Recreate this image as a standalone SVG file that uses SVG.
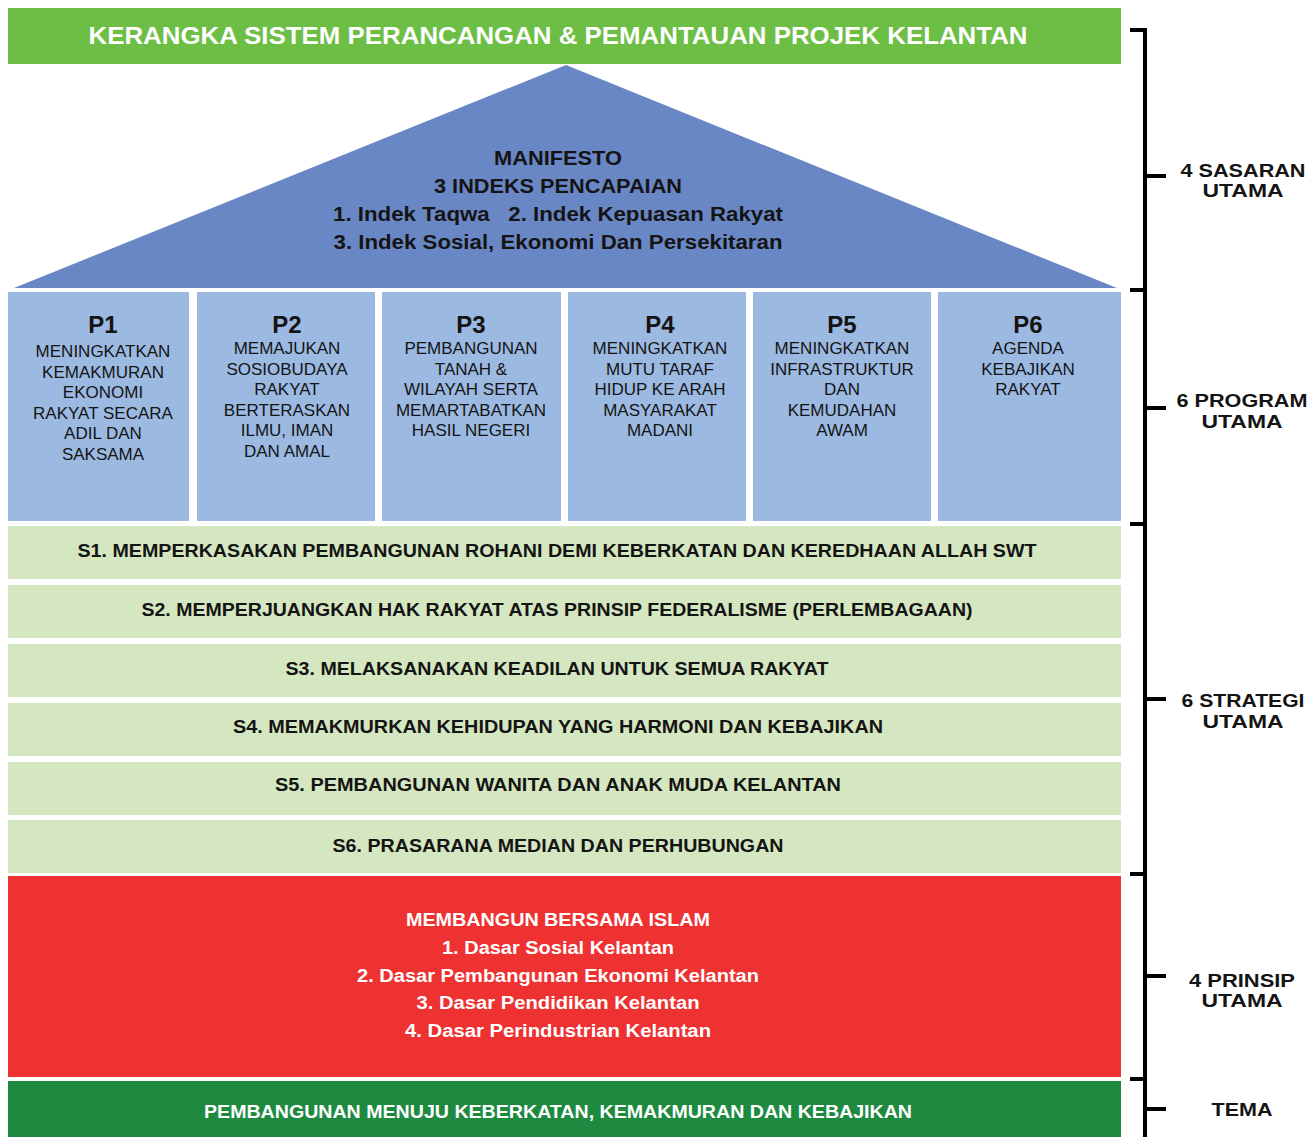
<svg xmlns="http://www.w3.org/2000/svg" width="1316" height="1137" viewBox="0 0 1316 1137">
<style>
.b{font-family:"Liberation Sans","DejaVu Sans",sans-serif;font-weight:bold;text-anchor:middle}
.r{font-family:"Liberation Sans","DejaVu Sans",sans-serif;text-anchor:middle}
.dk{fill:#141414}
.wh{fill:#ffffff}
.col{fill:#9bb9e1}
.srow{fill:#d5e7c0}
.hd{font-size:24px}
.ct{font-size:17px}
.st{font-size:18px}
.lbl{font-size:19px}
.br{stroke:#000;stroke-width:4;fill:none}
</style>
<rect width="1316" height="1137" fill="#ffffff"/>
<g id="title">
<rect x="8" y="8" width="1113" height="56" fill="#6dbe45"/>
<text class="b wh" x="558" y="44" font-size="24" textLength="939" lengthAdjust="spacingAndGlyphs">KERANGKA SISTEM PERANCANGAN &amp; PEMANTAUAN PROJEK KELANTAN</text>
</g>
<g id="manifesto">
<polygon points="566,65 1117,288 14,288" fill="#6a87c5"/>
<text class="b dk" x="558" y="165" font-size="20" textLength="128" lengthAdjust="spacingAndGlyphs">MANIFESTO</text>
<text class="b dk" x="558" y="193" font-size="20" textLength="248" lengthAdjust="spacingAndGlyphs">3 INDEKS PENCAPAIAN</text>
<text class="b dk" x="558" y="221" font-size="20" textLength="450" lengthAdjust="spacingAndGlyphs" xml:space="preserve">1. Indek Taqwa   2. Indek Kepuasan Rakyat</text>
<text class="b dk" x="558" y="249" font-size="20" textLength="449" lengthAdjust="spacingAndGlyphs">3. Indek Sosial, Ekonomi Dan Persekitaran</text>
</g>
<g id="p1">
<rect class="col" x="8" y="292" width="181" height="229"/>
<text class="b dk hd" x="103" y="333">P1</text>
<text class="r dk ct"><tspan x="103" y="357">MENINGKATKAN</tspan><tspan x="103" y="377.5">KEMAKMURAN</tspan><tspan x="103" y="398">EKONOMI</tspan><tspan x="103" y="418.5">RAKYAT SECARA</tspan><tspan x="103" y="439">ADIL DAN</tspan><tspan x="103" y="459.5">SAKSAMA</tspan></text>
</g>
<g id="p2">
<rect class="col" x="197" y="292" width="178" height="229"/>
<text class="b dk hd" x="287" y="333">P2</text>
<text class="r dk ct"><tspan x="287" y="354">MEMAJUKAN</tspan><tspan x="287" y="374.5">SOSIOBUDAYA</tspan><tspan x="287" y="395">RAKYAT</tspan><tspan x="287" y="415.5">BERTERASKAN</tspan><tspan x="287" y="436">ILMU, IMAN</tspan><tspan x="287" y="456.5">DAN AMAL</tspan></text>
</g>
<g id="p3">
<rect class="col" x="382" y="292" width="179" height="229"/>
<text class="b dk hd" x="471" y="333">P3</text>
<text class="r dk ct"><tspan x="471" y="354">PEMBANGUNAN</tspan><tspan x="471" y="374.5">TANAH &amp;</tspan><tspan x="471" y="395">WILAYAH SERTA</tspan><tspan x="471" y="415.5">MEMARTABATKAN</tspan><tspan x="471" y="436">HASIL NEGERI</tspan></text>
</g>
<g id="p4">
<rect class="col" x="568" y="292" width="178" height="229"/>
<text class="b dk hd" x="660" y="333">P4</text>
<text class="r dk ct"><tspan x="660" y="354">MENINGKATKAN</tspan><tspan x="660" y="374.5">MUTU TARAF</tspan><tspan x="660" y="395">HIDUP KE ARAH</tspan><tspan x="660" y="415.5">MASYARAKAT</tspan><tspan x="660" y="436">MADANI</tspan></text>
</g>
<g id="p5">
<rect class="col" x="753" y="292" width="178" height="229"/>
<text class="b dk hd" x="842" y="333">P5</text>
<text class="r dk ct"><tspan x="842" y="354">MENINGKATKAN</tspan><tspan x="842" y="374.5">INFRASTRUKTUR</tspan><tspan x="842" y="395">DAN</tspan><tspan x="842" y="415.5">KEMUDAHAN</tspan><tspan x="842" y="436">AWAM</tspan></text>
</g>
<g id="p6">
<rect class="col" x="938" y="292" width="183" height="229"/>
<text class="b dk hd" x="1028" y="333">P6</text>
<text class="r dk ct"><tspan x="1028" y="354">AGENDA</tspan><tspan x="1028" y="374.5">KEBAJIKAN</tspan><tspan x="1028" y="395">RAKYAT</tspan></text>
</g>
<g id="s1">
<rect class="srow" x="8" y="526" width="1113" height="53"/>
<text class="b dk st" x="557" y="557" textLength="959" lengthAdjust="spacingAndGlyphs">S1. MEMPERKASAKAN PEMBANGUNAN ROHANI DEMI KEBERKATAN DAN KEREDHAAN ALLAH SWT</text>
</g>
<g id="s2">
<rect class="srow" x="8" y="585" width="1113" height="53"/>
<text class="b dk st" x="557" y="616" textLength="831" lengthAdjust="spacingAndGlyphs">S2. MEMPERJUANGKAN HAK RAKYAT ATAS PRINSIP FEDERALISME (PERLEMBAGAAN)</text>
</g>
<g id="s3">
<rect class="srow" x="8" y="644" width="1113" height="53"/>
<text class="b dk st" x="557" y="675" textLength="543" lengthAdjust="spacingAndGlyphs">S3. MELAKSANAKAN KEADILAN UNTUK SEMUA RAKYAT</text>
</g>
<g id="s4">
<rect class="srow" x="8" y="703" width="1113" height="53"/>
<text class="b dk st" x="558" y="733" textLength="650" lengthAdjust="spacingAndGlyphs">S4. MEMAKMURKAN KEHIDUPAN YANG HARMONI DAN KEBAJIKAN</text>
</g>
<g id="s5">
<rect class="srow" x="8" y="762" width="1113" height="53"/>
<text class="b dk st" x="558" y="791" textLength="566" lengthAdjust="spacingAndGlyphs">S5. PEMBANGUNAN WANITA DAN ANAK MUDA KELANTAN</text>
</g>
<g id="s6">
<rect class="srow" x="8" y="820" width="1113" height="53"/>
<text class="b dk st" x="558" y="852" textLength="451" lengthAdjust="spacingAndGlyphs">S6. PRASARANA MEDIAN DAN PERHUBUNGAN</text>
</g>
<g id="prinsip">
<rect x="8" y="876" width="1113" height="201" fill="#ee3131"/>
<text class="b wh st" x="558" y="926" textLength="304" lengthAdjust="spacingAndGlyphs">MEMBANGUN BERSAMA ISLAM</text>
<text class="b wh st" x="558" y="954" textLength="232" lengthAdjust="spacingAndGlyphs">1. Dasar Sosial Kelantan</text>
<text class="b wh st" x="558" y="982" textLength="402" lengthAdjust="spacingAndGlyphs">2. Dasar Pembangunan Ekonomi Kelantan</text>
<text class="b wh st" x="558" y="1009" textLength="283" lengthAdjust="spacingAndGlyphs">3. Dasar Pendidikan Kelantan</text>
<text class="b wh st" x="558" y="1037" textLength="306" lengthAdjust="spacingAndGlyphs">4. Dasar Perindustrian Kelantan</text>
</g>
<g id="tema">
<rect x="8" y="1081" width="1113" height="56" fill="#1e8a3f"/>
<text class="b wh st" x="558" y="1118" textLength="708" lengthAdjust="spacingAndGlyphs">PEMBANGUNAN MENUJU KEBERKATAN, KEMAKMURAN DAN KEBAJIKAN</text>
</g>
<g id="connectors">
<path class="br" d="M1145,28 V1137"/>
<path class="br" d="M1130,30 H1147 M1130,290 H1145 M1130,524 H1145 M1130,874 H1145 M1130,1079 H1145"/>
<path class="br" d="M1145,176 H1166 M1145,408 H1166 M1145,699 H1166 M1145,976 H1166 M1145,1109 H1166"/>
</g>
<g id="labels">
<text class="b dk lbl" x="1243" y="177" textLength="125" lengthAdjust="spacingAndGlyphs">4 SASARAN</text>
<text class="b dk lbl" x="1243" y="197" textLength="81" lengthAdjust="spacingAndGlyphs">UTAMA</text>
<text class="b dk lbl" x="1242" y="407" textLength="131" lengthAdjust="spacingAndGlyphs">6 PROGRAM</text>
<text class="b dk lbl" x="1242" y="428" textLength="81" lengthAdjust="spacingAndGlyphs">UTAMA</text>
<text class="b dk lbl" x="1243" y="707" textLength="123" lengthAdjust="spacingAndGlyphs">6 STRATEGI</text>
<text class="b dk lbl" x="1243" y="728" textLength="81" lengthAdjust="spacingAndGlyphs">UTAMA</text>
<text class="b dk lbl" x="1242" y="987" textLength="106" lengthAdjust="spacingAndGlyphs">4 PRINSIP</text>
<text class="b dk lbl" x="1242" y="1007" textLength="81" lengthAdjust="spacingAndGlyphs">UTAMA</text>
<text class="b dk lbl" x="1242" y="1116" textLength="61" lengthAdjust="spacingAndGlyphs">TEMA</text>
</g>
</svg>
